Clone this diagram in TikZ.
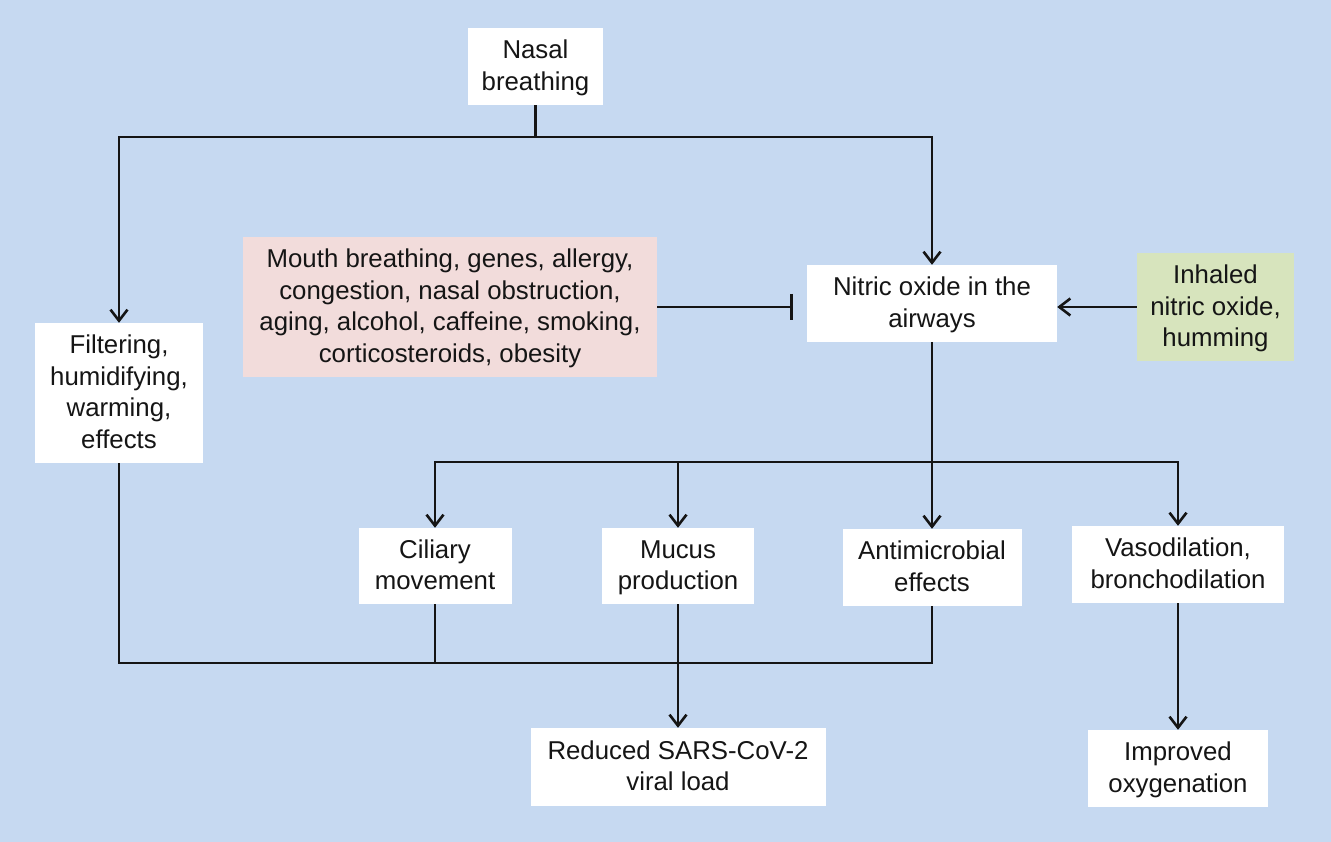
\documentclass[tikz,border=0pt]{standalone}
\usepackage{fontspec}
\setmainfont{Liberation Sans}
\usetikzlibrary{arrows.meta}
\definecolor{bgblue}{HTML}{C6D9F1}
\definecolor{pinkbox}{HTML}{F2DCDB}
\definecolor{greenbox}{HTML}{D7E4BD}
\definecolor{inkc}{HTML}{151515}
\newcommand{\lnst}{\rule[-7.6pt]{0pt}{31.5pt}}
\begin{document}
\begin{tikzpicture}[x=1pt,y=-1pt,
  box/.style={fill=white, draw=none, inner sep=0pt, align=center, text=inkc,
    font=\fontsize{25.8}{31.5}\selectfont},
  link/.style={draw=inkc, line width=2.6pt},
  arr/.style={link, -{Straight Barb[length=11pt,width=17pt,line width=2.6pt]}},
  inhib/.style={link, -{Bar[width=26pt,line width=2.6pt]}, shorten >=14pt}]
\fill[bgblue] (0,0) rectangle (1331,842);
\useasboundingbox (0,0) rectangle (1331,842);

\node[box, minimum width=135, minimum height=77] (nasal) at (535.5,66.5) {\lnst Nasal\\\lnst breathing};
\node[box, fill=pinkbox, minimum width=414, minimum height=140] (mouth) at (450,307)
  {\lnst Mouth breathing, genes, allergy,\\\lnst congestion, nasal obstruction,\\\lnst aging, alcohol, caffeine, smoking,\\\lnst corticosteroids, obesity};
\node[box, minimum width=250, minimum height=77] (no) at (932,303.5) {\lnst Nitric oxide in the\\\lnst airways};
\node[box, fill=greenbox, minimum width=157, minimum height=108] (inh) at (1215.5,307) {\lnst Inhaled\\\lnst nitric oxide,\\\lnst humming};
\node[box, minimum width=168, minimum height=140] (filt) at (119,393) {\lnst Filtering,\\\lnst humidifying,\\\lnst warming,\\\lnst effects};
\node[box, minimum width=153, minimum height=76] (cil) at (435,566) {\lnst Ciliary\\\lnst movement};
\node[box, minimum width=152, minimum height=76] (muc) at (678,566) {\lnst Mucus\\\lnst production};
\node[box, minimum width=179, minimum height=77] (anti) at (932,567.5) {\lnst Antimicrobial\\\lnst effects};
\node[box, minimum width=212, minimum height=77] (vaso) at (1178,564.5) {\lnst Vasodilation,\\\lnst bronchodilation};
\node[box, minimum width=295, minimum height=78] (red) at (678,767) {\lnst Reduced SARS-CoV-2\\\lnst viral load};
\node[box, minimum width=180, minimum height=77] (imp) at (1178,768.5) {\lnst Improved\\\lnst oxygenation};

\coordinate (j1) at (535.5,137);
\coordinate (j2) at (932,462);
\coordinate (j3) at (932,663);

\draw[link] (nasal.south) -- (j1);
\draw[arr] (j1) -| (filt.north);
\draw[arr] (j1) -| (no.north);
\draw[inhib] (mouth.east) -- (mouth.east -| no.west);
\draw[arr] (inh.west) -- (inh.west -| no.east);
\draw[arr] (no.south) -- (anti.north);
\draw[arr] (j2) -| (cil.north);
\draw[arr] (j2) -| (muc.north);
\draw[arr] (j2) -| (vaso.north);
\draw[link] (filt.south) |- (j3) -- (anti.south);
\draw[link] (cil.south) -- (cil.south |- j3);
\draw[arr] (muc.south) -- (red.north);
\draw[arr] (vaso.south) -- (imp.north);
\end{tikzpicture}
\end{document}
